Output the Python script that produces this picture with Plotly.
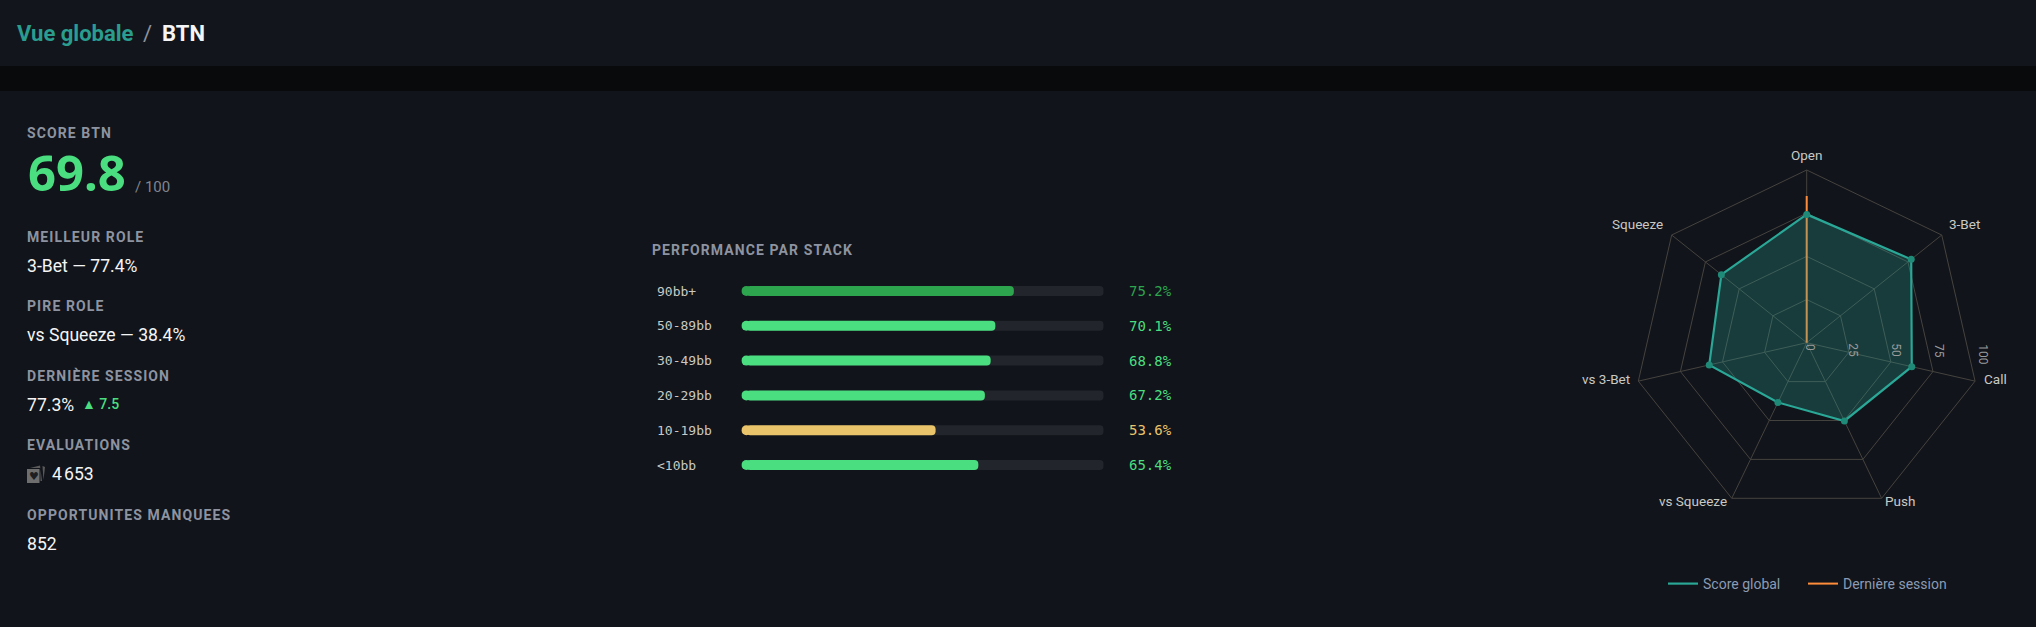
import json
import math

import plotly.graph_objects as go

W, H = 2036, 627

BG = "#11141a"
HEADER_BG = "#12161c"
BAND_BG = "#090a0c"
GREY = "#8d93a0"
WHITE = "#f4f5f6"
GREEN = "#4ade80"
TEAL = "#2aa796"
GRID = "#45433f"

# performance par stack
stacks = ["90bb+", "50-89bb", "30-49bb", "20-29bb", "10-19bb", "<10bb"]
stack_scores = [75.2, 70.1, 68.8, 67.2, 53.6, 65.4]
stack_colors = ["#2da44e", "#4ade80", "#4ade80", "#4ade80", "#e9c46a", "#4ade80"]
track_values = [100, 100, 100, 100, 100, 100]

# radar
roles = ["Open", "3-Bet", "Call", "Push", "vs Squeeze", "vs 3-Bet", "Squeeze"]
global_scores = [74.3, 77.4, 62.4, 50.3, 38.4, 57.9, 63.2]
session_scores = [85, 0, 0, 0, 0, 0, 0]
radial_ticks = [0, 25, 50, 75, 100]

# colonne de gauche
stat_labels = ["SCORE BTN", "MEILLEUR ROLE", "PIRE ROLE", "DERNIÈRE SESSION", "EVALUATIONS", "OPPORTUNITES MANQUEES"]
stat_label_y = [133, 237, 306, 376, 445, 515]

BAR_LEFT, BAR_RIGHT = 741.4, 1103.7
BAR_PX = 10
CAP = BAR_PX / 2 / (BAR_RIGHT - BAR_LEFT) * 100
R = 172.7
CX, CY = 1806.7, 342.7


def px(x):
    return x / W


def py(y):
    return 1 - y / H


def text(x, y, s, size, color, family="Roboto", weight=400, anchor="left", **kw):
    fig.add_annotation(
        xref="paper", yref="paper", x=px(x), y=py(y), text=s, showarrow=False,
        xanchor=anchor, yanchor="middle", align=anchor, borderpad=0, borderwidth=0,
        font=dict(size=size, color=color, family=family, weight=weight), **kw,
    )


def path(points):
    # chemin svg en pixels de la page, converti en coordonnees paper
    return " ".join(f"{c}{px(x):.5f},{py(y):.5f}" for c, x, y in points) + " Z"


def legend_at(x):
    return dict(
        orientation="h", x=px(x), xanchor="left", y=py(584), yanchor="middle",
        font=dict(size=14, color="#8b9bb4"), bgcolor="rgba(0,0,0,0)",
    )


fig = go.Figure()

# barres : base decalee d'un rayon, le bout gauche arrondi est un point
fig.add_trace(go.Bar(
    y=stacks, x=[v - CAP for v in track_values], base=CAP, orientation="h", width=0.287,
    showlegend=False, hoverinfo="skip",
    marker=dict(color="#22252b", cornerradius=5, line_width=0),
))
fig.add_trace(go.Bar(
    y=stacks, x=[v - CAP for v in stack_scores], base=CAP, orientation="h", width=0.287,
    showlegend=False, marker=dict(color=stack_colors, cornerradius=5, line_width=0),
))
fig.add_trace(go.Scatter(
    y=stacks, x=[CAP] * len(stacks), mode="markers", showlegend=False, hoverinfo="skip",
    marker=dict(color=stack_colors, size=BAR_PX, line_width=0),
))

# radar : la session passe sous le score global
closed_roles = roles + roles[:1]
fig.add_trace(go.Scatterpolar(
    r=session_scores + session_scores[:1], theta=closed_roles, mode="lines",
    name="Dernière session", legend="legend2", showlegend=True, line=dict(color="#ff8c3a", width=2),
))
fig.add_trace(go.Scatterpolar(
    r=global_scores + global_scores[:1], theta=closed_roles, mode="lines", showlegend=False,
    fill="toself", fillcolor="rgba(42,167,150,0.28)", line=dict(color=TEAL, width=0), hoverinfo="skip",
))
fig.add_trace(go.Scatterpolar(
    r=global_scores + global_scores[:1], theta=closed_roles, mode="lines",
    name="Score global", showlegend=True, line=dict(color=TEAL, width=2.2),
))
fig.add_trace(go.Scatterpolar(
    r=global_scores, theta=roles, mode="markers", showlegend=False,
    marker=dict(color="#1f8a78", size=7),
))

fig.update_layout(
    width=W, height=H, margin=dict(l=0, r=0, t=0, b=0),
    paper_bgcolor=BG, plot_bgcolor="rgba(0,0,0,0)", barmode="overlay",
    font=dict(family="Roboto", color=GREY),
    xaxis=dict(domain=[px(BAR_LEFT), px(BAR_RIGHT)], range=[0, 100], visible=False),
    yaxis=dict(domain=[py(482.4), py(273.6)], autorange="reversed", visible=False),
    polar=dict(
        domain=dict(x=[px(CX - R), px(CX + R)], y=[py(CY + R), py(CY - R)]),
        bgcolor="rgba(0,0,0,0)", gridshape="linear",
        angularaxis=dict(
            rotation=90, direction="clockwise", gridcolor=GRID, linecolor=GRID,
            showticklabels=False, ticks="",
        ),
        radialaxis=dict(
            range=[0, 100], tickvals=radial_ticks, showline=False, showticklabels=False,
            gridcolor=GRID, ticks="",
        ),
    ),
    legend=legend_at(1663),
    legend2=legend_at(1803),
    shapes=[
        dict(type="rect", xref="paper", yref="paper", x0=0, x1=1, y0=py(66), y1=1, fillcolor=HEADER_BG, line_width=0, layer="below"),
        dict(type="rect", xref="paper", yref="paper", x0=0, x1=1, y0=py(91), y1=py(66), fillcolor=BAND_BG, line_width=0, layer="below"),
        # icone cartes
        dict(type="path", xref="paper", yref="paper", fillcolor="#5a5a5a", line_width=0,
             path=path([("M", 30, 468), ("L", 40, 465.5), ("L", 42, 481), ("L", 40.5, 481), ("L", 40.5, 468)])),
        dict(type="path", xref="paper", yref="paper", fillcolor="#5a5a5a", line_width=0,
             path=path([("M", 42.5, 466), ("L", 45, 467), ("L", 43.5, 480)])),
        dict(type="path", xref="paper", yref="paper", fillcolor="#6e6e6e", line_width=0,
             path=path([("M", 27, 469), ("L", 39.5, 469), ("L", 39.5, 483), ("L", 27, 483)])),
    ],
)

# en-tete
text(17, 34, "Vue globale", 22, "#2a9d8f", weight=700)
text(143, 34, "/", 22, GREY)
text(162, 34, "BTN", 22, WHITE, weight=700)

# colonne de gauche
for label, y in zip(stat_labels, stat_label_y):
    text(27, y, label, 14, GREY, weight=700)
text(28, 172, "69.8", 49, GREEN, family="Noto Sans", weight=700)
text(135, 187, "/ 100", 15, "#7f8590")
text(27, 266, "3-Bet — 77.4%", 17.6, WHITE)
text(27, 335, "vs Squeeze — 38.4%", 17.6, WHITE)
text(27, 405, "77.3%", 17.6, WHITE)
text(82, 404, "▲ 7.5", 14, GREEN, weight=500)
text(29, 476.5, "♥", 11, "#1c1e22", family="DejaVu Sans")
text(52, 474, "4\u202f653", 17.6, WHITE)
text(27, 544, "852", 17.6, WHITE)

# titre et libelles des barres
text(652, 250, "PERFORMANCE PAR STACK", 14, GREY, weight=700)
for name, score, color in zip(stacks, stack_scores, stack_colors):
    fig.add_annotation(
        xref="paper", yref="y", x=px(655), y=name, text=name, showarrow=False, xanchor="left",
        font=dict(size=13, color="#c9c9c4", family="DejaVu Sans Mono"),
    )
    fig.add_annotation(
        xref="paper", yref="y", x=px(1127), y=name, text=f"{score}%", showarrow=False, xanchor="left",
        font=dict(size=14, color=color, family="DejaVu Sans Mono"),
    )

# libelles du radar, decales du sommet de chaque branche
label_offsets = [(0, -15.5, "center"), (7, -11, "left"), (9, -2, "left"), (3, 3, "left"),
                 (-5, 3, "right"), (-8, -2, "right"), (-9, -11, "right")]
for i, (role, (dx, dy, anchor)) in enumerate(zip(roles, label_offsets)):
    angle = 2 * math.pi * i / len(roles)
    vx, vy = CX + R * math.sin(angle), CY - R * math.cos(angle)
    text(vx + dx, vy + dy, role, 13.5, "#c9c9c4", anchor=anchor)

# graduations radiales, tournees comme dans l'original
for tick in radial_ticks:
    fig.add_annotation(
        xref="paper", yref="paper", x=px(CX + R * tick / 100 + 3.3), y=py(CY + 1 + len(str(tick)) * 3.4),
        xanchor="center", yanchor="middle", text=str(tick), textangle=90, showarrow=False,
        font=dict(size=12, color="#9a9a9a", family="Roboto"),
    )

spaced = json.dumps(stat_labels + ["PERFORMANCE PAR STACK"])
post_script = (
    "document.body.style.margin='0';"
    f"var spaced={spaced};"
    "document.querySelectorAll('.annotation-text').forEach(function(t){"
    "if(spaced.indexOf(t.textContent)>=0){t.style.letterSpacing='1.1px';}});"
)
fig.write_html("out.html", post_script=post_script, config=dict(displayModeBar=False))
